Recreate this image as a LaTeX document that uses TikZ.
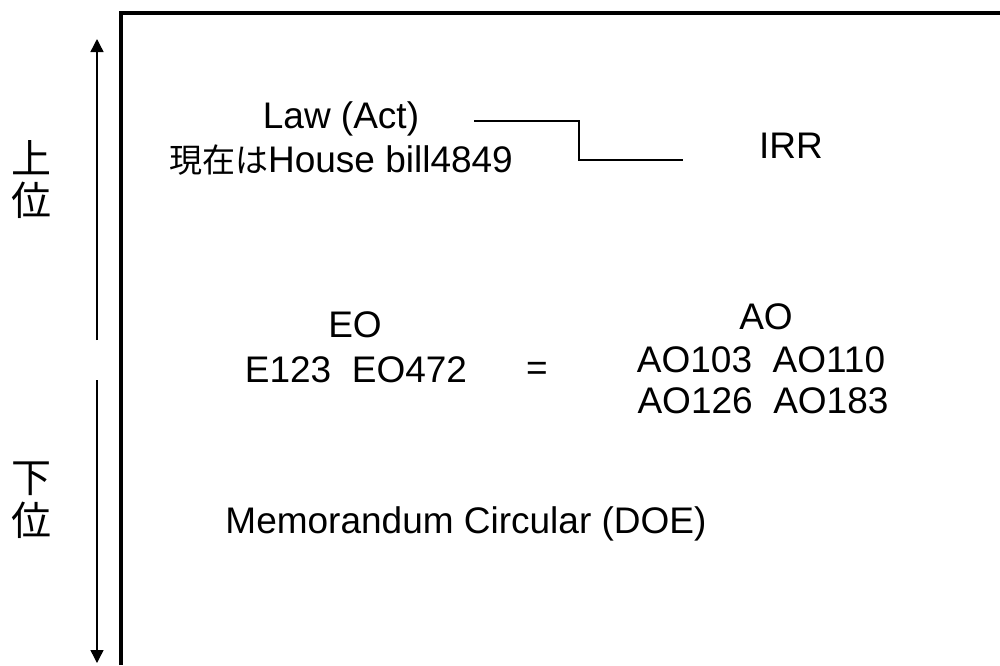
\documentclass[tikz,border=0pt]{standalone}
\usepackage{fontspec}
\setmainfont{Liberation Sans}
\newfontfamily\cjk{Noto Sans CJK JP}
\usetikzlibrary{arrows.meta}
\begin{document}
\begin{tikzpicture}[x=1pt,y=-1pt,
  txt/.style={inner sep=0pt,anchor=base,font=\fontsize{37}{44}\selectfont},
  kanji/.style={inner sep=0pt,anchor=center,font=\cjk\fontsize{40}{44}\selectfont},
  frame/.style={line width=4pt,line join=miter},
  rangearrow/.style={line width=1.4pt,-{Triangle[width=13pt,length=13pt]}},
  link/.style={line width=1.3pt}]
\useasboundingbox (0,0) rectangle (1000,665);
\fill[white] (0,0) rectangle (1000,665);
% frame
\coordinate (fb) at (120.5,665);
\coordinate (fc) at (120.5,13);
\coordinate (fr) at (1000,13);
\draw[frame] (fb) -- (fc) -- (fr);
% range arrows
\coordinate (a1s) at (97,340);
\coordinate (a1e) at (97,39);
\coordinate (a2s) at (97,380);
\coordinate (a2e) at (97,663);
\draw[rangearrow] (a1s) -- (a1e);
\draw[rangearrow] (a2s) -- (a2e);
% side labels
\node[kanji] (u1) at (32,158) {上};
\node[kanji] (u2) at (32,200) {位};
\node[kanji] (d1) at (32,479) {下};
\node[kanji] (d2) at (32,520) {位};
% texts
\node[txt] (law) at (341,128) {Law (Act)};
\node[txt] (house) at (341,172) {{\cjk\fontsize{33}{44}\selectfont 現在は}House bill4849};
\node[txt] (irr) at (791,158) {IRR};
\node[txt] (eo) at (355,337) {EO};
\node[txt] (eol) at (356,382) {E123\ \ EO472};
\node[txt] (eq) at (537,380) {=};
\node[txt] (ao) at (766,329) {AO};
\node[txt] (ao1) at (761,372) {AO103\ \ AO110};
\node[txt] (ao2) at (763,413) {AO126\ \ AO183};
\node[txt] (mc) at (466,533) {Memorandum Circular (DOE)};
% connector
\coordinate (c1) at (474,121);
\coordinate (c2) at (579,121);
\coordinate (c3) at (579,160);
\coordinate (c4) at (683,160);
\draw[link] (c1) -- (c2) -- (c3) -- (c4);
\end{tikzpicture}
\end{document}
